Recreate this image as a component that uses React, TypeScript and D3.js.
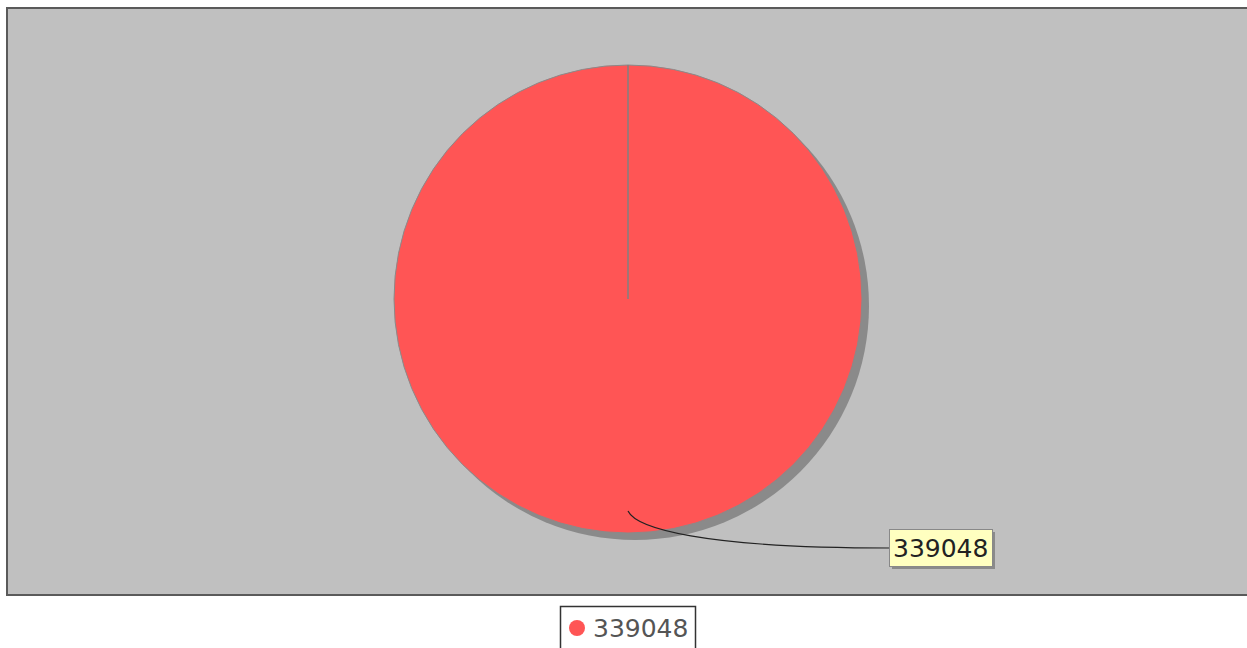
import React from "react";
import * as d3 from "d3";

const categories = ["339048"];
const values = [339048];
const colors = ["#ff5555"];

export default function App() {
  const W = 1247, H = 648;
  const cx = 628, cy = 299, r = 234;
  const pie = d3.pie<number>().sort(null).startAngle(0).endAngle(2 * Math.PI);
  const arcs = pie(values);
  const arc = d3.arc<d3.PieArcDatum<number>>().innerRadius(0).outerRadius(r);
  const top = d3.pointRadial(arcs[0].startAngle, r);
  const linkStart: [number, number] = [cx, cy + 212];
  const labelX = 890, labelY = 548;
  const link = d3.path();
  link.moveTo(linkStart[0], linkStart[1]);
  link.bezierCurveTo(linkStart[0] + 8, linkStart[1] + 17, 700, labelY, labelX, labelY);
  return (
    <svg width={W} height={H} style={{ position: "absolute", left: 0, top: 0, background: "#fff" }}
      fontFamily="DejaVu Sans">
      <rect x={7} y={8} width={1250} height={587} fill="#c0c0c0" stroke="#5a5a5a" strokeWidth={2} />
      <g transform={`translate(${cx + 7},${cy + 7})`}>
        {arcs.map((a, i) => (
          <path key={"s" + i} d={arc(a) || ""} fill="#8a8a8a" />
        ))}
      </g>
      <g transform={`translate(${cx},${cy})`}>
        {arcs.map((a, i) => (
          <path key={i} d={arc(a) || ""} fill={colors[i]} stroke="#8a8a8a" strokeWidth={1} />
        ))}
        <line x1={0} y1={0} x2={top[0]} y2={top[1]} stroke="#808080" strokeWidth={1.5} />
      </g>
      <path d={link.toString()} fill="none" stroke="#222" strokeWidth={1.2} />
      <rect x={892} y={532} width={103} height={37} fill="#8a8a8a" />
      <rect x={889.5} y={529.5} width={103} height={37} fill="#ffffc0" stroke="#888" strokeWidth={1} />
      <text x={893} y={557} fontSize={25} fill="#222">{categories[0]}</text>
      <rect x={560.5} y={606.5} width={135} height={50} fill="#fff" stroke="#333" strokeWidth={1.5} />
      <circle cx={577} cy={628} r={8} fill={colors[0]} />
      <text x={593} y={637} fontSize={25} fill="#555">{categories[0]}</text>
    </svg>
  );
}
